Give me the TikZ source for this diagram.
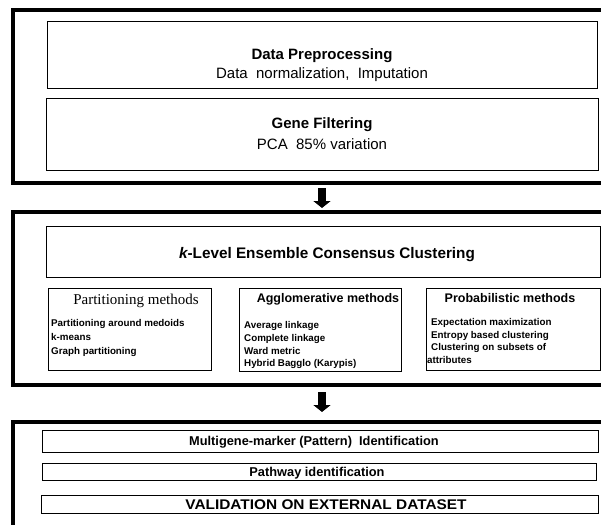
\documentclass[tikz,border=0pt]{standalone}
\usepackage{fontspec}
\setmainfont{Liberation Sans}
\newfontfamily\timesf{Liberation Serif}
\usetikzlibrary{arrows.meta,calc}
\tikzset{
  outerbox/.style={draw, line width=4pt, inner sep=0pt, outer sep=0pt},
  inbox/.style={draw, line width=0.85pt, inner sep=0pt, outer sep=0pt},
  bigarrow/.style={line width=8pt, -{Triangle[width=17pt,length=7pt]}},
  tbig/.style={anchor=base, inner sep=0pt, font=\fontsize{15}{18}\selectfont\bfseries},
  tbigreg/.style={anchor=base, inner sep=0pt, font=\fontsize{15}{18}\selectfont},
  tmid/.style={anchor=base, inner sep=0pt, font=\fontsize{12.5}{14}\selectfont\bfseries},
  titem/.style={anchor=base west, inner sep=0pt, font=\fontsize{9.8}{12}\selectfont\bfseries},
  tbot/.style={anchor=base, inner sep=0pt, font=\fontsize{12.8}{15}\selectfont\bfseries}
}
\begin{document}
\begin{tikzpicture}[x=1pt,y=-1pt]
\useasboundingbox (0,0) rectangle (601,524);
\clip (0,0) rectangle (601,524);
\fill[white] (0,0) rectangle (601,524);
% outer frames
\node[outerbox, minimum width=607pt, minimum height=172.5pt] (o1) at (316.5,96.75) {};
\node[outerbox, minimum width=607pt, minimum height=173pt] (o2) at (316.5,298.5) {};
\node[outerbox, minimum width=607pt, minimum height=138pt] (o3) at (316.5,491) {};
% top section
\node[inbox, minimum width=550pt, minimum height=66.5pt] (dp) at (322,54.75) {};
\node[tbig] (dpt) at (322,60) {Data Preprocessing};
\node[tbigreg] (dps) at (322,78.5) {Data\ \ normalization,\ \ Imputation};
\node[inbox, minimum width=552pt, minimum height=72pt] (gf) at (322,134) {};
\node[tbig] (gft) at (322,128.5) {Gene Filtering};
\node[tbigreg] (gfs) at (322,149) {PCA\ \ 85\% variation};
% middle section
\node[inbox, minimum width=554pt, minimum height=51pt] (kl) at (323,251.5) {};
\node[anchor=base, inner sep=0pt, font=\fontsize{15.3}{18}\selectfont\bfseries] (klt) at (327,258) {{\itshape k}-Level Ensemble Consensus Clustering};
\node[inbox, minimum width=163pt, minimum height=82pt] (pm) at (129.5,329) {};
\node[anchor=base, inner sep=0pt, font=\timesf\fontsize{15}{18}\selectfont] (pmt) at (136,304) {Partitioning methods};
\node[titem] (pm1) at (51,326) {Partitioning around medoids};
\node[titem] (pm2) at (51,340) {k-means};
\node[titem] (pm3) at (51,354) {Graph partitioning};
\node[inbox, minimum width=162pt, minimum height=83pt] (am) at (320,329.5) {};
\node[tmid] (amt) at (328,302) {Agglomerative methods};
\node[titem] (am1) at (244,328) {Average linkage};
\node[titem] (am2) at (244,341) {Complete linkage};
\node[titem] (am3) at (244,354) {Ward metric};
\node[titem] (am4) at (244,366) {Hybrid Bagglo (Karypis)};
\node[inbox, minimum width=174pt, minimum height=82pt] (prm) at (513,329) {};
\node[tmid] (prmt) at (510,302) {Probabilistic methods};
\node[titem] (pr1) at (431,325) {Expectation maximization};
\node[titem] (pr2) at (431,338) {Entropy based clustering};
\node[titem] (pr3) at (431,350) {Clustering on subsets of};
\node[titem] (pr4) at (427,363) {attributes};
% bottom section
\node[inbox, minimum width=556pt, minimum height=22pt] (mg) at (320,441) {};
\node[tbot] (mgt) at (314,445.5) {Multigene-marker (Pattern)\ \ Identification};
\node[inbox, minimum width=554pt, minimum height=17pt] (pw) at (319,471.5) {};
\node[tbot] (pwt) at (317,476) {Pathway identification};
\node[inbox, minimum width=557pt, minimum height=18pt] (va) at (319.5,504) {};
\node[anchor=base, inner sep=0pt, font=\fontsize{14}{16}\selectfont\bfseries] (vat) at (326,509) {\scalebox{1.1}[1]{VALIDATION ON EXTERNAL DATASET}};
% arrows
\draw[bigarrow] ($(o1.south -| dp.center)+(0,5)$) -- ($(o2.north -| dp.center)+(0,-4)$);
\draw[bigarrow] ($(o2.south -| dp.center)+(0,7)$) -- ($(o3.north -| dp.center)+(0,-10)$);
\end{tikzpicture}
\end{document}
